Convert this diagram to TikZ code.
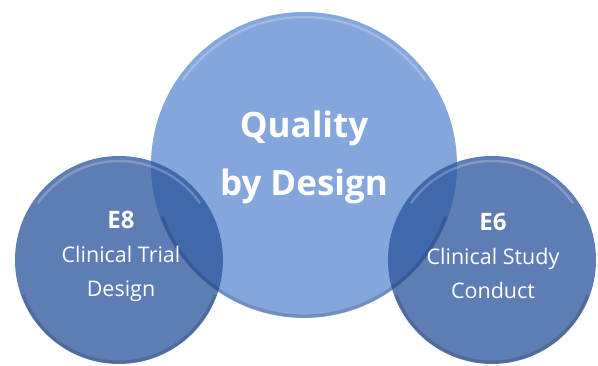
\documentclass[tikz,border=0pt]{standalone}
\usepackage{fontspec}
\setmainfont{Open Sans}
\usepackage{tikz}
\usepackage{xcolor}
\definecolor{qbdblue}{RGB}{132,166,220}
\definecolor{ichblue}{RGB}{46,86,158}

\begin{document}
\begin{tikzpicture}[x=1pt,y=1pt,
  bubble/.style={circle,inner sep=0pt,draw=none},
  glint/.style={white,opacity=0.22,line width=2.5pt},
  shade/.style={black,opacity=0.15,line width=3pt},
  bigtext/.style={font=\fontsize{35}{58}\selectfont\bfseries,text=white,align=center},
  smalltext/.style={font=\fontsize{21.5}{34}\selectfont,text=white,align=center}]
\useasboundingbox (0,0) rectangle (598,365);
% main bubble, then the two guideline bubbles over it
\node[bubble,fill=qbdblue,minimum size=306pt] (qbd) at (304,200) {};
\foreach \n/\x in {e8/119, e6/492}{
  \node[bubble,fill=ichblue,fill opacity=0.77,minimum size=208pt] (\n) at (\x,105) {};
}
% bevel: light band on top, darker rim below
\foreach \n/\r in {qbd/148, e8/99, e6/99}{
  \draw[glint] ([shift={(35:\r)}]\n.center) arc (35:145:\r);
  \draw[shade] ([shift={(200:\r+3)}]\n.center) arc (200:340:\r+3);
}
\node[bigtext] (qbdtext) at (304,208) {Quality\\by Design};
\node[smalltext] (e8text) at (121,109) {{\fontsize{24}{34}\selectfont\bfseries E8}\\Clinical Trial\\Design};
\node[smalltext] (e6text) at (493,109) {{\fontsize{24}{34}\selectfont\bfseries E6}\\Clinical Study\\Conduct};
\end{tikzpicture}
\end{document}
